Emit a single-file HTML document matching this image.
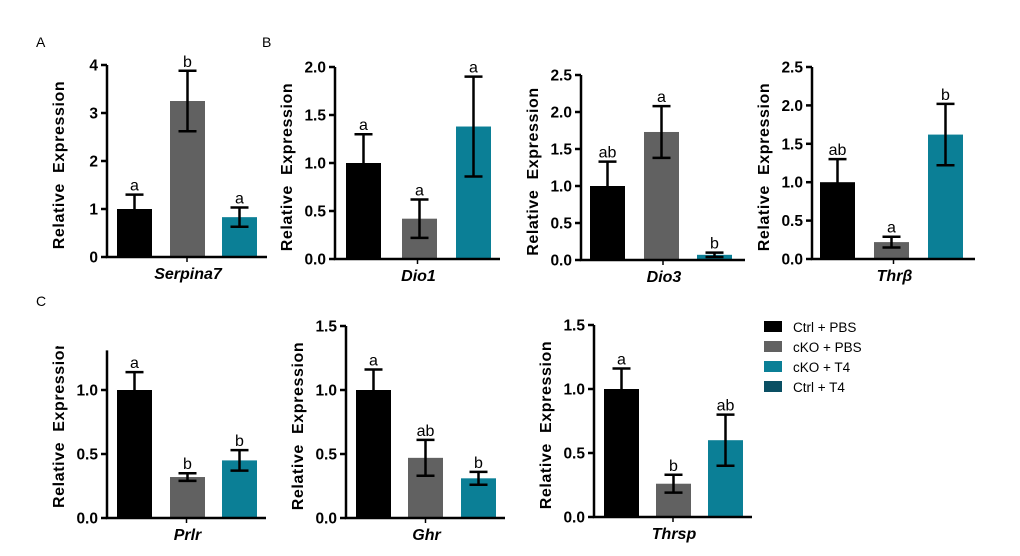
<!DOCTYPE html>
<html><head><meta charset="utf-8">
<style>
html,body{margin:0;padding:0;background:#fff;}
svg{display:block;font-family:"Liberation Sans",sans-serif;}
text{white-space:pre;}
</style></head>
<body>
<svg id="fig" width="1020" height="556" viewBox="0 0 1020 556" xmlns="http://www.w3.org/2000/svg">
<defs><clipPath id="clipPrlr" clipPathUnits="userSpaceOnUse"><rect x="0" y="346" width="110" height="200"/></clipPath></defs>
<text x="36" y="47" font-size="14">A</text>
<text x="262" y="47" font-size="14">B</text>
<text x="36" y="306" font-size="14">C</text>
</svg>
<script>
const groups = ["Ctrl + PBS","cKO + PBS","cKO + T4","Ctrl + T4"];
const colors = ["#000000","#616161","#0b7f96","#0a4f63"];
const genes = ["Serpina7","Dio1","Dio3","Thrβ","Prlr","Ghr","Thrsp"];
const serpina7 = [1.0,3.25,0.83], serpina7Err = [0.3,0.63,0.2], serpina7Sig = ["a","b","a"];
const dio1 = [1.0,0.42,1.38], dio1Err = [0.3,0.2,0.52], dio1Sig = ["a","a","a"];
const dio3 = [1.0,1.73,0.07], dio3Err = [0.33,0.35,0.03], dio3Sig = ["ab","a","b"];
const thrb = [1.0,0.22,1.62], thrbErr = [0.3,0.07,0.4], thrbSig = ["ab","a","b"];
const prlr = [1.0,0.32,0.45], prlrErr = [0.14,0.03,0.08], prlrSig = ["a","b","b"];
const ghr = [1.0,0.47,0.31], ghrErr = [0.16,0.14,0.05], ghrSig = ["a","ab","b"];
const thrsp = [1.0,0.26,0.6], thrspErr = [0.16,0.07,0.2], thrspSig = ["a","b","ab"];
const ticksA = [0,1,2,3,4], ticksA_lbl = ["0","1","2","3","4"];
const ticks20 = [0,0.5,1.0,1.5,2.0], ticks20_lbl = ["0.0","0.5","1.0","1.5","2.0"];
const ticks25 = [0,0.5,1.0,1.5,2.0,2.5], ticks25_lbl = ["0.0","0.5","1.0","1.5","2.0","2.5"];
const ticks15 = [0,0.5,1.0,1.5], ticks15_lbl = ["0.0","0.5","1.0","1.5"];
const ticksPrlr = [0,0.5,1.0], ticksPrlr_lbl = ["0.0","0.5","1.0"];

const svg = document.getElementById('fig');
const NS = "http://www.w3.org/2000/svg";
function mk(tag, attrs, parent){const e=document.createElementNS(NS,tag);for(const k in attrs)e.setAttribute(k,attrs[k]);(parent||svg).appendChild(e);return e;}

const panels = [
 {g:0, v:serpina7, e:serpina7Err, s:serpina7Sig, ax:107, y0:257, ppu:48, top:4, ticks:ticksA, tl:ticksA_lbl, end:267, bars:[117,170,222], w:35},
 {g:1, v:dio1, e:dio1Err, s:dio1Sig, ax:335, y0:259, ppu:96, top:2.0, ticks:ticks20, tl:ticks20_lbl, end:500, bars:[346,402,456], w:35},
 {g:2, v:dio3, e:dio3Err, s:dio3Sig, ax:581, y0:260, ppu:74, top:2.5, ticks:ticks25, tl:ticks25_lbl, end:745, bars:[590,644,697], w:35},
 {g:3, v:thrb, e:thrbErr, s:thrbSig, ax:812, y0:259, ppu:76.8, top:2.5, ticks:ticks25, tl:ticks25_lbl, end:975, bars:[820,874,928], w:35},
 {g:4, v:prlr, e:prlrErr, s:prlrSig, ax:107, y0:518, ppu:128, top:1.31, ticks:ticksPrlr, tl:ticksPrlr_lbl, end:266, bars:[117,170,222], w:35, clip:true},
 {g:5, v:ghr, e:ghrErr, s:ghrSig, ax:346, y0:518, ppu:128, top:1.5, ticks:ticks15, tl:ticks15_lbl, end:505, bars:[356,408,461], w:35},
 {g:6, v:thrsp, e:thrspErr, s:thrspSig, ax:594, y0:517, ppu:128, top:1.5, ticks:ticks15, tl:ticks15_lbl, end:752, bars:[604,656,708], w:35}
];

panels.forEach((p,pi)=>{
  const name = genes[p.g].toLowerCase().replace('β','b');
  const grp = mk('g',{});
  
  
  const y = v => p.y0 - v*p.ppu;
  p.v.forEach((val,i)=>{
    const r = mk('rect',{x:p.bars[i], y:y(val), width:p.w, height:p.y0-y(val), fill:colors[i]},grp);
    
    
    const cx = p.bars[i]+p.w/2;
    const hi = y(val+p.e[i]), lo = y(Math.max(0,val-p.e[i]));
    const eb = mk('path',{d:`M${cx},${lo}V${hi}M${cx-9},${hi}H${cx+9}M${cx-9},${lo}H${cx+9}`, stroke:'#000','stroke-width':2.5, fill:'none'},grp);
    
    
    const t = mk('text',{x:cx, y:hi-4, 'font-size':16, 'text-anchor':'middle'},grp);
    t.textContent = p.s[i];
    
    
  });
  const axis = mk('path',{d:`M${p.ax},${y(p.top)}V${p.y0}H${p.end}`, stroke:'#000','stroke-width':2.5, fill:'none'},grp);
  
  
  p.ticks.forEach((tv,i)=>{
    mk('line',{x1:p.ax-6,x2:p.ax,y1:y(tv),y2:y(tv),stroke:'#000','stroke-width':2.5},grp);
    const t = mk('text',{x:p.ax-9,y:y(tv)+5.5,'font-size':15.5,'font-weight':'bold','text-anchor':'end'},grp);
    t.textContent = p.tl[i];
    
    
  });
  const mid = (p.ax+p.end)/2;
  mk('line',{x1:mid,x2:mid,y1:p.y0,y2:p.y0+5,stroke:'#000','stroke-width':1.5},grp);
  const xl = mk('text',{x:mid+1,y:p.y0+22,'font-size':16,'font-weight':'bold','font-style':'italic','text-anchor':'middle'},grp);
  xl.textContent = genes[p.g];
  
  
  const lx = p.ax-43;
  let yl;
  if(p.clip){
    const cg = mk('g',{'clip-path':'url(#clipPrlr)'},grp);
    const sy = p.y0-10;
    yl = mk('text',{x:lx,y:sy,'font-size':16,'font-weight':'bold','text-anchor':'start','letter-spacing':'0.6',transform:`rotate(-90 ${lx} ${sy})`},cg);
  } else {
    const ymid = (p.y0+y(p.top))/2 + 4;
    yl = mk('text',{x:lx,y:ymid,'font-size':16,'font-weight':'bold','text-anchor':'middle','letter-spacing':'0.6',transform:`rotate(-90 ${lx} ${ymid})`},grp);
  }
  yl.textContent = 'Relative  Expression';
  
  
});

const leg = mk('g',{});


groups.forEach((gname,i)=>{
  const ly = 321 + i*20;
  const e = mk('g',{},leg);
  
  
  mk('rect',{x:764,y:ly,width:18,height:11,fill:colors[i]},e);
  const t = mk('text',{x:793,y:ly+11,'font-size':13.5},e);
  t.textContent = gname;
});
</script>
</body></html>
